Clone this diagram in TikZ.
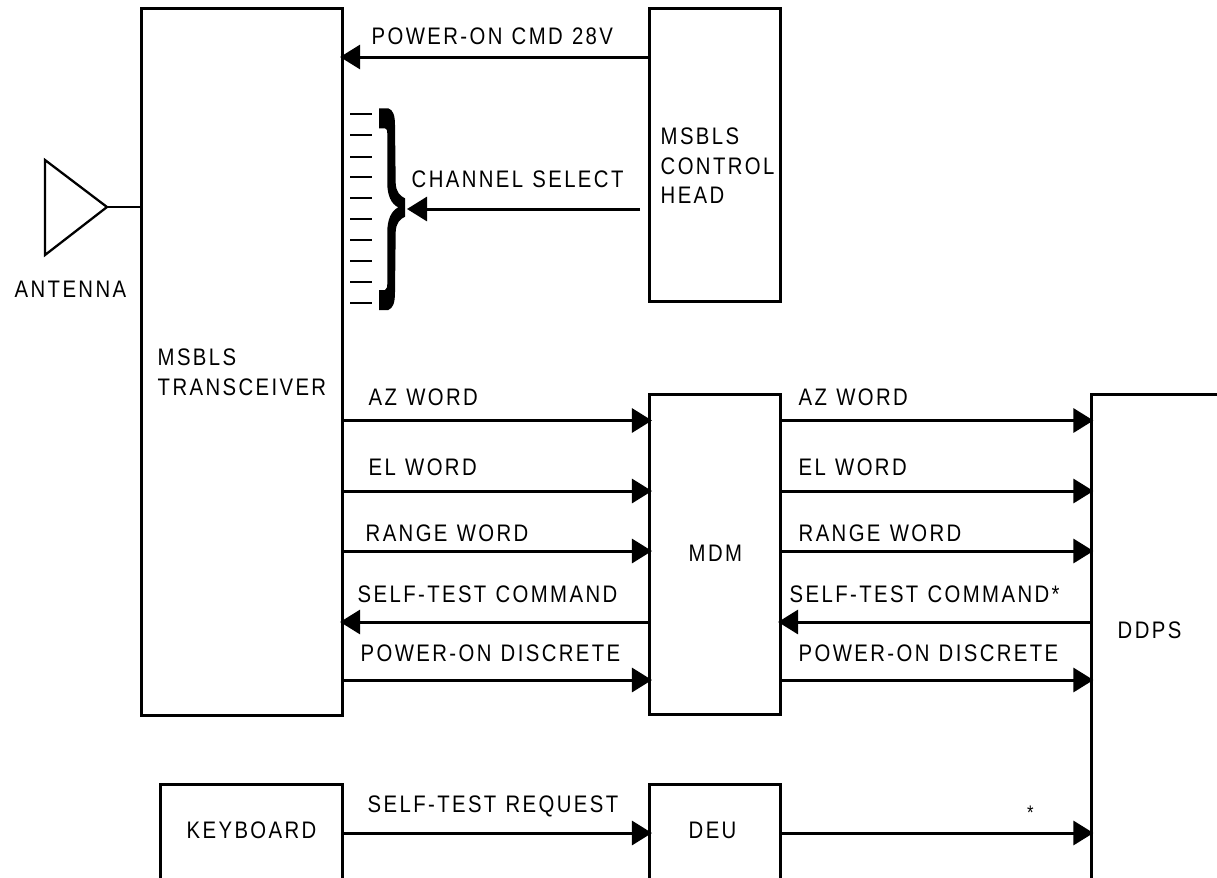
\documentclass[tikz,border=0pt]{standalone}
\usepackage{fontspec}
\setmainfont[FakeStretch=0.85,LetterSpace=10,WordSpace=1.15]{Liberation Sans}
\usetikzlibrary{arrows.meta}

\tikzset{
    blockbox/.style={draw,line width=0.85pt,inner sep=0pt,outer sep=0pt},
    sigline/.style={line width=0.85pt,shorten >=-0.02cm,-{Triangle[length=0.2cm,width=0.24cm]}},
    sigtext/.style={anchor=west,inner sep=0pt,align=left,font=\fontsize{6.8}{8.4}\selectfont},
    ticks/.style={line width=0.7pt}
}

\begin{document}
\begin{tikzpicture}[x=0.01cm,y=-0.01cm]
    \useasboundingbox (0,0) rectangle (1217,878);
    \clip (0,0) rectangle (1217,878);

    % blocks
    \node[blockbox,minimum width=2cm,minimum height=7.06cm] (xcvr) at (242,362) {};
    \node[blockbox,minimum width=1.3cm,minimum height=2.92cm] (head) at (715,155) {};
    \node[blockbox,minimum width=1.3cm,minimum height=3.19cm] (mdm) at (715,554.5) {};
    \node[blockbox,minimum width=1.81cm,minimum height=2cm] (keys) at (251.5,885) {};
    \node[blockbox,minimum width=1.3cm,minimum height=2cm] (deu) at (715,885) {};
    \node[blockbox,minimum width=2cm,minimum height=6cm] (ddps) at (1191.5,695) {};

    % antenna
    \coordinate (anttip) at (107,207);
    \draw[line width=0.65pt,line join=miter] (45,160) -- (anttip) -- (45,255) -- cycle;
    \draw[line width=0.65pt] (anttip) -- (xcvr.west |- anttip);

    % channel select lines and brace
    \foreach \y in {114,135,157,177,198,219,240,261,282,303}
        \draw[ticks] (350,\y) -- (372,\y);
    \fill (379,108.3) -- (388.3,108.3) .. controls (393,110) and (395,115) .. (395,125)
        -- (395.7,183) .. controls (396,192) and (400,196) .. (405,198.3)
        -- (405,216.7) .. controls (400,219) and (396,223) .. (395.7,232)
        -- (395,292) .. controls (395,303) and (393,308) .. (388.3,310)
        -- (379,310) -- (379,290) -- (385,290) .. controls (387,289) and (387.3,287) .. (387.3,283)
        -- (387.3,232) .. controls (387.3,220) and (391,211) .. (398.3,207.3)
        .. controls (391,204) and (387.3,195) .. (387.3,183)
        -- (387.3,133.3) .. controls (387.3,130) and (387,129) .. (385,128.3)
        -- (379,128.3) -- cycle;

    % control head signals
    \coordinate (cmd) at (0,57);
    \coordinate (chan) at (409,209);
    \coordinate (chanstart) at (640,209);
    \draw[sigline] (head.west |- cmd) -- (xcvr.east |- cmd);
    \draw[sigline] (chanstart) -- (chan);

    % signals left and right of the MDM
    \foreach \name/\y in {az/420.5,el/491,range/551,power/680} {
        \coordinate (\name) at (0,\y);
        \draw[sigline] (xcvr.east |- \name) -- (mdm.west |- \name);
        \draw[sigline] (mdm.east |- \name) -- (ddps.west |- \name);
    }
    \coordinate (test) at (0,622);
    \draw[sigline] (mdm.west |- test) -- (xcvr.east |- test);
    \draw[sigline] (ddps.west |- test) -- (mdm.east |- test);

    % keyboard signals
    \coordinate (req) at (0,833);
    \draw[sigline] (keys.east |- req) -- (deu.west |- req);
    \draw[sigline] (deu.east |- req) -- (ddps.west |- req);

    % block labels
    \node[sigtext] (xcvrtext) at (157,372) {MSBLS\\TRANSCEIVER};
    \node[sigtext] (headtext) at (660,166) {MSBLS\\CONTROL\\HEAD};
    \node[sigtext] (mdmtext) at (688,553) {MDM};
    \node[sigtext] (keystext) at (186,830) {KEYBOARD};
    \node[sigtext] (deutext) at (688,830) {DEU};
    \node[sigtext] (ddpstext) at (1117,630) {DDPS};
    \node[sigtext] (anttext) at (14,289) {ANTENNA};

    % signal labels
    \node[sigtext] (cmdtext) at (371,36) {POWER-ON CMD 28V};
    \node[sigtext] (chantext) at (411,179) {CHANNEL SELECT};
    \node[sigtext] (aztext) at (368,397) {AZ WORD};
    \node[sigtext] (eltext) at (368,467) {EL WORD};
    \node[sigtext] (rangetext) at (365,533) {RANGE WORD};
    \node[sigtext] (testtext) at (357,594) {SELF-TEST COMMAND};
    \node[sigtext] (powertext) at (360,653) {POWER-ON DISCRETE};
    \node[sigtext] (azright) at (798,397) {AZ WORD};
    \node[sigtext] (elright) at (798,467) {EL WORD};
    \node[sigtext] (rangeright) at (798,533) {RANGE WORD};
    \node[sigtext] (testright) at (789,594) {SELF-TEST COMMAND*};
    \node[sigtext] (powerright) at (798,653) {POWER-ON DISCRETE};
    \node[sigtext] (reqtext) at (367,806) {SELF-TEST REQUEST};
    \node[sigtext,font=\fontsize{5.6}{6}\selectfont] (startext) at (1026.5,813) {*};
\end{tikzpicture}
\end{document}
